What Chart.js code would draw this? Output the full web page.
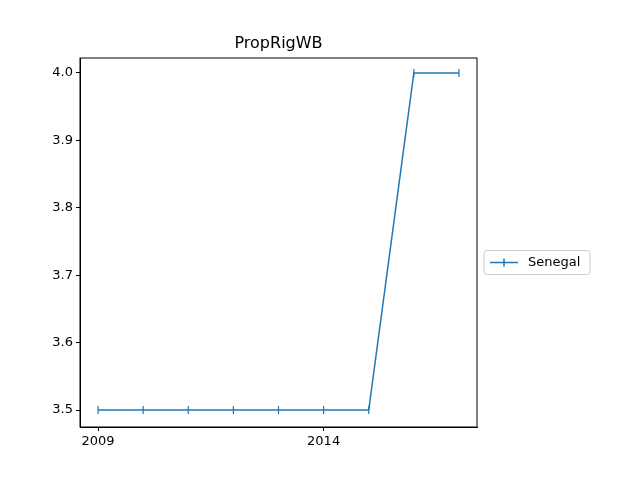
<!DOCTYPE html>
<html><head><script src="https://cdn.jsdelivr.net/npm/chart.js"></script>
<style>body{margin:0;background:#fff}</style></head>
<body><canvas id="c" width="640" height="480"></canvas>
<script>
var years = [2009, 2010, 2011, 2012, 2013, 2014, 2015, 2016, 2017];
var values = [3.5, 3.5, 3.5, 3.5, 3.5, 3.5, 3.5, 4.0, 4.0];
var seriesName = 'Senegal';
var xTicks = [2009, 2014];
var font = {family: 'DejaVu Sans', size: 13};
var blue = '#1f77b4';

var frame = {
  id: 'frame',
  afterDraw: function (chart) {
    var a = chart.chartArea, ctx = chart.ctx;
    ctx.save();
    ctx.strokeStyle = '#000'; ctx.lineWidth = 1;
    ctx.strokeRect(a.left, a.top, a.right - a.left, a.bottom - a.top);
    ctx.fillStyle = '#000'; ctx.font = '16px DejaVu Sans';
    ctx.textAlign = 'center'; ctx.textBaseline = 'bottom';
    ctx.fillText('PropRigWB', (a.left + a.right) / 2, a.top - 6);
    // legend
    var lx = a.right + 7, ly = (a.top + a.bottom) / 2 + 8;
    ctx.strokeStyle = '#ccc';
    ctx.beginPath(); ctx.roundRect(lx, ly, 106, 24, 3); ctx.fillStyle = '#fff'; ctx.fill(); ctx.stroke();
    ctx.strokeStyle = blue; ctx.lineWidth = 1.5;
    ctx.beginPath(); ctx.moveTo(lx + 6, ly + 12); ctx.lineTo(lx + 34, ly + 12);
    ctx.moveTo(lx + 20, ly + 8); ctx.lineTo(lx + 20, ly + 16); ctx.stroke();
    ctx.fillStyle = '#000'; ctx.font = '13px DejaVu Sans';
    ctx.textAlign = 'left'; ctx.textBaseline = 'middle';
    ctx.fillText(seriesName, lx + 44, ly + 12);
    ctx.restore();
  }
};

new Chart(document.getElementById('c'), {
  type: 'line',
  data: {
    datasets: [{
      label: seriesName,
      data: years.map(function (y, i) { return {x: y, y: values[i]}; }),
      borderColor: blue, backgroundColor: blue, borderWidth: 1.5,
      pointStyle: 'line', rotation: 90, pointRadius: 4, pointBorderWidth: 1.2,
      tension: 0
    }]
  },
  options: {
    responsive: false, animation: false,
    layout: {padding: {top: 58, right: 163, left: 0, bottom: 0}},
    plugins: {legend: {display: false}, title: {display: false}, tooltip: {enabled: false}},
    scales: {
      x: {
        type: 'linear', min: 2008.6, max: 2017.4,
        afterBuildTicks: function (s) { s.ticks = xTicks.map(function (v) { return {value: v}; }); },
        afterFit: function (s) { s.height = 53; },
        grid: {drawOnChartArea: false, color: '#000', tickLength: 4},
        border: {color: '#000'},
        ticks: {color: '#000', font: font, maxRotation: 0, callback: function (v) { return String(v); }}
      },
      y: {
        min: 3.4748, max: 4.0222,
        afterBuildTicks: function (s) {
          s.ticks = [3.5, 3.6, 3.7, 3.8, 3.9, 4.0].map(function (v) { return {value: v}; });
        },
        afterFit: function (s) { s.width = 80; },
        grid: {drawOnChartArea: false, color: '#000', tickLength: 4},
        border: {color: '#000'},
        ticks: {color: '#000', font: font, callback: function (v) { return v.toFixed(1); }}
      }
    }
  },
  plugins: [frame]
});
</script></body></html>
